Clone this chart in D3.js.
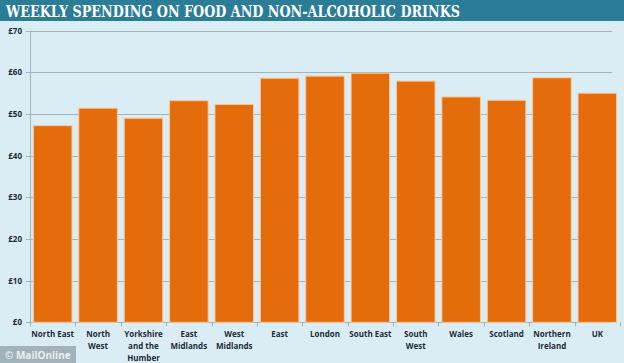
<!DOCTYPE html>
<meta charset="utf-8">
<style>
body { margin: 0; background: #dbedf4; }
svg { display: block; }
.ylab { font: bold 8px "Open Sans", sans-serif; fill: #1d2b3a; text-anchor: end; }
.xlab { font: bold 8px "Open Sans", sans-serif; fill: #1d2b3a; text-anchor: middle; }
.grid line { stroke: #9fb4bb; stroke-width: 1px; }
.bar { fill: #e46c0a; stroke: #f6caa2; stroke-width: 1px; }
</style>
<body>
<script src="https://cdn.jsdelivr.net/npm/d3@7"></script>
<svg id="chart" width="624" height="363"></svg>
<script>
var regions = ["North East", "North West", "Yorkshire and the Humber", "East Midlands", "West Midlands",
  "East", "London", "South East", "South West", "Wales", "Scotland", "Northern Ireland", "UK"];
var labelLines = [["North East"], ["North", "West"], ["Yorkshire", "and the", "Humber"], ["East", "Midlands"],
  ["West", "Midlands"], ["East"], ["London"], ["South East"], ["South", "West"], ["Wales"], ["Scotland"],
  ["Northern", "Ireland"], ["UK"]];
var spending = [47.2, 51.4, 49.0, 53.2, 52.3, 58.6, 59.1, 59.8, 57.9, 54.1, 53.3, 58.7, 55.0];
var yTicks = [0, 10, 20, 30, 40, 50, 60, 70];

var svg = d3.select("#chart");
var W = 624, H = 363;

// background + title band
svg.append("rect").attr("width", W).attr("height", H).attr("fill", "#dbedf4");
svg.append("rect").attr("width", W).attr("height", 21).attr("fill", "#2a7c97");
svg.append("text").attr("x", 6).attr("y", 16.5)
  .style("font", "bold 17px 'DejaVu Serif', serif").style("fill", "#ffffff")
  .attr("textLength", 454).attr("lengthAdjust", "spacingAndGlyphs")
  .text("WEEKLY SPENDING ON FOOD AND NON-ALCOHOLIC DRINKS");

var x = d3.scaleBand().domain(regions).range([30, 620]).paddingInner(0.15).paddingOuter(0.075);
var y = d3.scaleLinear().domain([0, 70]).range([322.3, 30.7]);

// grid lines with small ticks to the left
var grid = svg.append("g").attr("class", "grid");
grid.selectAll("line").data(yTicks).enter().append("line")
  .attr("x1", 26).attr("x2", 612)
  .attr("y1", function(d) { return Math.round(y(d)) + 0.5; })
  .attr("y2", function(d) { return Math.round(y(d)) + 0.5; });

// y axis line
svg.append("line").attr("x1", 30.5).attr("x2", 30.5).attr("y1", y(70)).attr("y2", y(0) + 4)
  .attr("stroke", "#9fb4bb");

// x ticks between categories
var bounds = d3.range(regions.length + 1).map(function(i) { return 30 + i * x.step(); });
svg.selectAll(".xtick").data(bounds).enter().append("line")
  .attr("x1", function(d) { return Math.round(d) + 0.5; })
  .attr("x2", function(d) { return Math.round(d) + 0.5; })
  .attr("y1", y(0)).attr("y2", y(0) + 4).attr("stroke", "#9fb4bb");

svg.selectAll(".ylab").data(yTicks).enter().append("text").attr("class", "ylab")
  .attr("x", 22).attr("y", function(d) { return y(d) + 3; })
  .text(function(d) { return "£" + d; });

svg.selectAll(".bar").data(spending).enter().append("rect").attr("class", "bar")
  .attr("x", function(d, i) { return x(regions[i]); })
  .attr("width", x.bandwidth())
  .attr("y", function(d) { return y(d); })
  .attr("height", function(d) { return y(0) - y(d); });

var labs = svg.selectAll(".xlab").data(labelLines).enter().append("text").attr("class", "xlab")
  .attr("transform", function(d, i) { return "translate(" + (x(regions[i]) + x.bandwidth() / 2) + ",337)"; });
labs.selectAll("tspan").data(function(d) { return d; }).enter().append("tspan")
  .attr("x", 0).attr("dy", function(d, j) { return j ? 12 : 0; })
  .text(function(d) { return d; });

// watermark
svg.append("rect").attr("x", 0).attr("y", 346).attr("width", 76).attr("height", 17)
  .attr("fill", "#8e9ea4").attr("opacity", 0.75);
svg.append("text").attr("x", 5).attr("y", 358.5)
  .style("font", "bold 10px 'Open Sans', sans-serif").style("fill", "#e8f0f3")
  .text("© MailOnline");
</script>
</body>
